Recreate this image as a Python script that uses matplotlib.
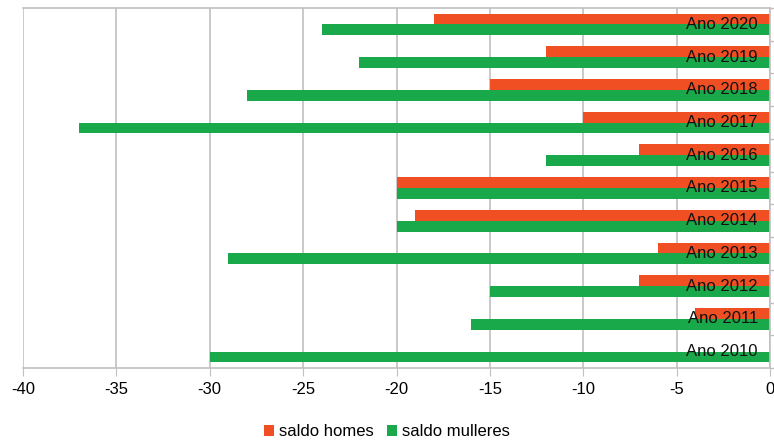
import numpy as np
import matplotlib.pyplot as plt

plt.rcParams['font.family'] = ['Liberation Sans', 'DejaVu Sans']
plt.rcParams['axes.unicode_minus'] = False

years = ["Ano 2010", "Ano 2011", "Ano 2012", "Ano 2013", "Ano 2014", "Ano 2015",
         "Ano 2016", "Ano 2017", "Ano 2018", "Ano 2019", "Ano 2020"]
saldo_homes = [0, -4, -7, -6, -19, -20, -7, -10, -15, -12, -18]
saldo_mulleres = [-30, -16, -15, -29, -20, -20, -12, -37, -28, -22, -24]

red = "#F04E23"
green = "#19A84A"
grid_col = "#C0C0C0"

fig = plt.figure(figsize=(7.74, 4.41), dpi=100)
ax = fig.add_axes([23 / 774, 1 - 368 / 441, 747 / 774, 360 / 441])

y = np.arange(len(years))
h = 0.33
ax.barh(y + h / 2, saldo_homes, height=h, color=red, label="saldo homes", zorder=2)
ax.barh(y - h / 2, saldo_mulleres, height=h, color=green, label="saldo mulleres", zorder=2)

ax.set_xlim(-40, 0)
ax.set_ylim(-0.5, len(years) - 0.5)
ax.set_xticks(np.arange(-40, 1, 5))
ax.xaxis.grid(True, color=grid_col, linewidth=1.2, zorder=0)
ax.tick_params(axis='x', length=6, color=grid_col, labelsize=12, pad=4)

# category boundaries as small ticks on the right
ax.yaxis.set_ticks_position('right')
ax.set_yticks(np.arange(-0.5, len(years), 1.0))
ax.set_yticklabels([])
ax.tick_params(axis='y', length=4, color=grid_col, width=1)

for i, lab in enumerate(years):
    ax.text(-0.65, i, lab, ha='right', va='center', fontsize=12, color="#111111", zorder=3)

for side in ['top', 'bottom', 'left', 'right']:
    ax.spines[side].set_color(grid_col)
    ax.spines[side].set_linewidth(1.2)
ax.spines['left'].set_visible(False)

fig.legend(loc='center', bbox_to_anchor=(0.5, 1 - 432 / 441), ncol=2, frameon=False,
           fontsize=12, handlelength=0.6, handleheight=0.6, handletextpad=0.3,
           columnspacing=0.8)

fig.savefig("out.png", dpi=100)
